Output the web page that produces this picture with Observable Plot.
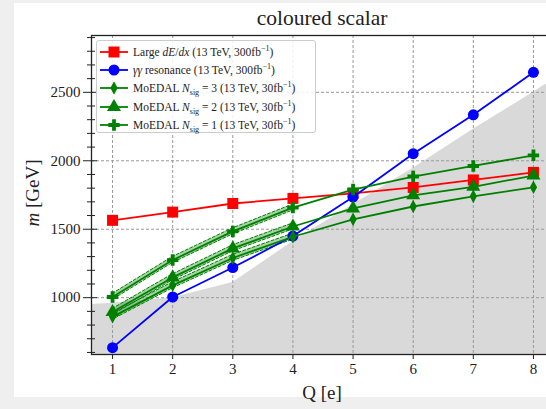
<!DOCTYPE html>
<html><head><meta charset="utf-8">
<script src="https://cdn.jsdelivr.net/npm/d3@7"></script>
<script src="https://cdn.jsdelivr.net/npm/@observablehq/plot@0.6"></script>
<style>
html,body{margin:0;padding:0;width:546px;height:409px;overflow:hidden;background:#efefef;font-family:"Liberation Serif",serif;color:#222}
#panel{position:absolute;left:14px;top:3px;width:540px;height:394px;background:#fff}
#chart{position:absolute;left:0;top:0;width:560px;height:409px}
#chart svg{max-width:none !important;width:560px;height:409px}
#title{position:absolute;top:6px;left:0;width:644px;text-align:center;font-size:21.5px;line-height:24px}
#ylab{position:absolute;left:33px;top:193px;transform:translate(-50%,-50%) rotate(-90deg);font-size:19px;white-space:nowrap}
#xlab{position:absolute;left:0;width:644px;top:382px;text-align:center;font-size:19px;line-height:22px}
#legend{position:absolute;left:96px;top:40px;width:220px;height:93px;box-sizing:border-box;border:1px solid #ccc;border-radius:3px;background:rgba(255,255,255,0.85);font-size:11.5px}
#legend .row{position:absolute;left:0;height:18px;line-height:18px;white-space:nowrap}
#legend svg{position:absolute;left:2px;top:0}
#legend span{position:absolute;left:36px;top:0}
sub,sup{font-size:8px;line-height:0}
</style></head>
<body>
<div id="panel"></div>
<div id="chart"></div>
<div id="title">coloured scalar</div>
<div id="ylab"><i>m</i> [GeV]</div>
<div id="xlab">Q [e]</div>
<div id="legend"></div>
<script>
const Q = [1, 2, 3, 4, 5, 6, 7, 8];
const dedx = [1565, 1625, 1688, 1725, 1762, 1805, 1860, 1915];
const gamma = [635, 1005, 1220, 1450, 1735, 2052, 2336, 2646];
const moe3 = [860, 1090, 1290, 1445, 1572, 1666, 1740, 1806];
const moe2 = [895, 1148, 1360, 1520, 1652, 1748, 1810, 1892];
const moe1 = [1005, 1275, 1484, 1658, 1790, 1885, 1962, 2040];
const excludedQ = [0.65, 1, 2, 3, 4, 5, 6, 7, 8, 8.35];
const excludedM = [950, 960, 1000, 1110, 1410, 1680, 1945, 2230, 2500, 2600];
const bandQ = [1, 2, 3, 4];
const bandHalf = 22;
const yMajor = [1000, 1500, 2000, 2500];
const yMinor = d3.range(600, 3000, 100).filter(v => v % 500 !== 0);

const red = "#ff0000", blue = "#0000ff", green = "#008000";

const thinDiamond = {
  draw(ctx, size) {
    const r = Math.sqrt(size / Math.PI);
    ctx.moveTo(0, -r * 1.3); ctx.lineTo(r * 0.7, 0); ctx.lineTo(0, r * 1.3); ctx.lineTo(-r * 0.7, 0); ctx.closePath();
  }
};

const series = [
  {name: "dedx", vals: dedx, color: red, symbol: "square", r: 6.2},
  {name: "gamma", vals: gamma, color: blue, symbol: "circle", r: 5.5},
  {name: "moe3", vals: moe3, color: green, symbol: thinDiamond, r: 5.2},
  {name: "moe2", vals: moe2, color: green, symbol: "triangle", r: 5.2},
  {name: "moe1", vals: moe1, color: green, symbol: "cross", r: 4.8}
];
const pts = s => Q.map((q, i) => ({q, m: s.vals[i]}));
const excluded = excludedQ.map((q, i) => ({q, m: excludedM[i]}));
const band = vals => bandQ.map((q, i) => ({q, lo: vals[i] - bandHalf, hi: vals[i] + bandHalf}));

const marks = [
  Plot.areaY(excluded, {x: "q", y1: 0, y2: "m", fill: "#d9d9d9", clip: true}),
  Plot.ruleX(Q, {stroke: "#999", strokeDasharray: "3,2", strokeWidth: 1}),
  Plot.ruleY(yMajor, {stroke: "#999", strokeDasharray: "3,2", strokeWidth: 1}),
];
for (const v of [moe3, moe2, moe1]) {
  marks.push(Plot.areaY(band(v), {x: "q", y1: "lo", y2: "hi", fill: green, fillOpacity: 0.35, stroke: green, strokeDasharray: "3,2", strokeWidth: 1}));
}
for (const s of series) {
  marks.push(Plot.line(pts(s), {x: "q", y: "m", stroke: s.color, strokeWidth: 1.8}));
  marks.push(Plot.dot(pts(s), {x: "q", y: "m", fill: s.color, stroke: "none", symbol: s.symbol === thinDiamond ? () => "d" : s.symbol, r: s.r}));
}
marks.push(
  Plot.axisX({ticks: Q, tickSize: 5, tickPadding: 4, tickFormat: d => String(d), fontSize: 15, label: null}),
  Plot.axisY({ticks: yMajor, tickSize: 8, tickPadding: 3, tickFormat: d => String(d), fontSize: 15, label: null}),
  Plot.axisY({ticks: yMajor, tickSize: -6, tickFormat: () => "", label: null}),
  Plot.axisY({ticks: yMinor, tickSize: 4, tickFormat: () => "", label: null}),
  Plot.axisY({ticks: yMinor, tickSize: -4, tickFormat: () => "", label: null}),
  Plot.frame({stroke: "#222", strokeWidth: 1.3})
);

const chart = Plot.plot({
  width: 560, height: 409,
  marginLeft: 91, marginTop: 35, marginBottom: 55, marginRight: 6,
  style: {fontFamily: "Liberation Serif", fontSize: "15px", color: "#222", background: "transparent"},
  x: {domain: [0.65, 8.35]},
  y: {domain: [585, 2915]},
  symbol: {domain: ["d"], range: [thinDiamond]},
  marks
});
document.getElementById("chart").append(chart);

const labels = [
  'Large <i>dE</i>/<i>dx</i> (13 TeV, 300fb<sup>−1</sup>)',
  '<i>γγ</i> resonance (13 TeV, 300fb<sup>−1</sup>)',
  'MoEDAL <i>N</i><sub>sig</sub> = 3 (13 TeV, 30fb<sup>−1</sup>)',
  'MoEDAL <i>N</i><sub>sig</sub> = 2 (13 TeV, 30fb<sup>−1</sup>)',
  'MoEDAL <i>N</i><sub>sig</sub> = 1 (13 TeV, 30fb<sup>−1</sup>)'
];
const leg = document.getElementById("legend");
series.forEach((s, i) => {
  const row = document.createElement("div");
  row.className = "row";
  row.style.top = (2 + i * 18.2) + "px";
  const sym = d3.symbol(s.symbol === thinDiamond ? thinDiamond : (s.symbol === "square" ? d3.symbolSquare : s.symbol === "circle" ? d3.symbolCircle : s.symbol === "triangle" ? d3.symbolTriangle : d3.symbolCross), s.r * s.r * Math.PI)();
  row.innerHTML = `<svg width="30" height="18"><line x1="1" x2="29" y1="9" y2="9" stroke="${s.color}" stroke-width="1.8"/><path d="${sym}" transform="translate(15,9)" fill="${s.color}"/></svg><span>${labels[i]}</span>`;
  leg.append(row);
});
</script>
</body></html>
